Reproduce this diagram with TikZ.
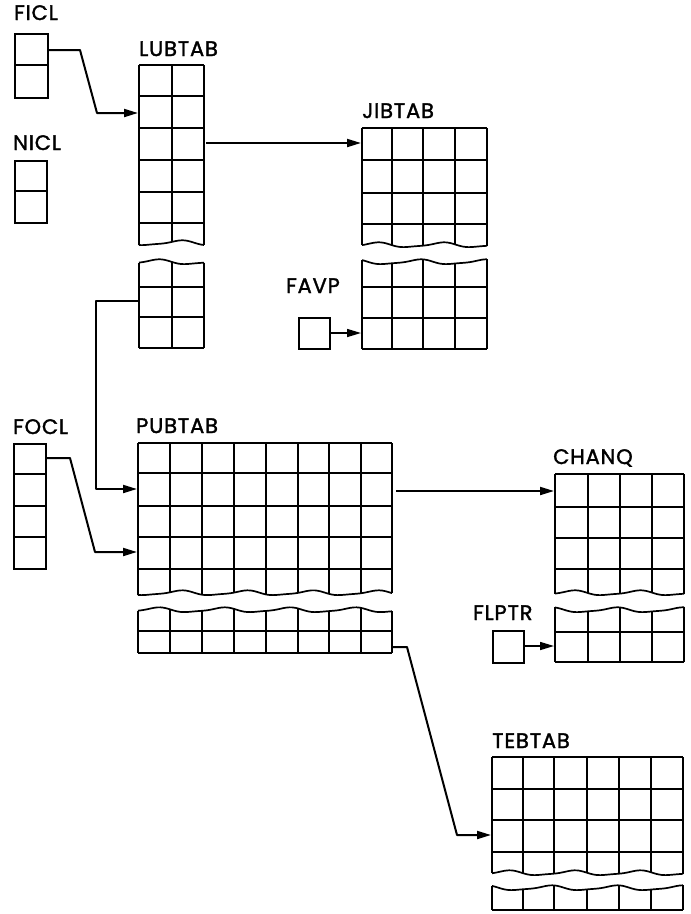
\documentclass[tikz,border=0pt]{standalone}
\usepackage{fontspec}
\setmainfont{Poppins}
\newfontfamily\lblfont{Poppins}[FakeBold=1.6,LetterSpace=4]
\usetikzlibrary{arrows.meta}
\begin{document}
\begin{tikzpicture}[x=1pt,y=-1pt,
  tab/.style={line width=1.7pt,line join=round},
  conn/.style={line width=2pt,line join=round,-{Triangle[length=14pt,width=8pt]}},
  lbl/.style={anchor=base west,inner sep=0pt,font=\lblfont\fontsize{21}{21}\selectfont},
  cellbox/.style={draw,line width=1.7pt,inner sep=0pt,anchor=north west}]
\useasboundingbox[fill=white] (0,0) rectangle (691,914);
% wave function
\def\wv#1{(2.2*sin(5.5*(#1))+0.6*sin(11*(#1)+40))}
% table top part: cols, top, rows, wave y
\newcommand{\toptab}[4]{%
  \foreach \r in {#3} {\draw[tab] ({min(#1)},\r) -- ({max(#1)},\r);}
  \foreach \c in {#1} {\draw[tab] (\c,#2) -- (\c,{#4+\wv{\c}});}
  \pgfmathsetmacro{\xa}{min(#1)}\pgfmathsetmacro{\xb}{max(#1)}
  \draw[tab] (\xa,#2) -- (\xb,#2);
  \draw[tab] plot[domain=\xa:\xb,samples=80,smooth] (\x,{#4+\wv{\x}});
}
% table bottom part: cols, wave y, rows, bottom
\newcommand{\bottab}[4]{%
  \foreach \r in {#3} {\draw[tab] ({min(#1)},\r) -- ({max(#1)},\r);}
  \foreach \c in {#1} {\draw[tab] (\c,{#2+\wv{\c+23}}) -- (\c,#4);}
  \pgfmathsetmacro{\xa}{min(#1)}\pgfmathsetmacro{\xb}{max(#1)}
  \draw[tab] (\xa,#4) -- (\xb,#4);
  \draw[tab] plot[domain=\xa:\xb,samples=80,smooth] (\x,{#2+\wv{\x+23}});
}
% ---- labels
\node[lbl] (lficl) at (14,20) {FICL};
\node[lbl] (llub) at (139,56) {LUBTAB};
\node[lbl] (lnicl) at (13,150) {NICL};
\node[lbl] (ljib) at (362,118) {JIBTAB};
\node[lbl] (lfavp) at (286,293) {FAVP};
\node[lbl] (lfocl) at (13,434) {FOCL};
\node[lbl] (lpub) at (136,433) {PUBTAB};
\node[lbl] (lchanq) at (553,464) {CHANQ};
\node[lbl] (lflptr) at (473,620) {FLPTR};
\node[lbl] (lteb) at (492,748) {TEBTAB};
% ---- small boxes
\node[cellbox,minimum width=33pt,minimum height=64pt] (ficl) at (14,33) {};
\draw[tab] (14,65) -- (47,65);
\node[cellbox,minimum width=32pt,minimum height=62pt] (nicl) at (14,160) {};
\draw[tab] (14,191) -- (46,191);
\node[cellbox,minimum width=32pt,minimum height=125pt] (focl) at (13,443) {};
\foreach \r in {474,506,537} \draw[tab] (13,\r) -- (45,\r);
\node[cellbox,minimum width=31pt,minimum height=31pt] (favp) at (298,317) {};
\node[cellbox,minimum width=31pt,minimum height=32pt] (flptr) at (492,630) {};
% ---- tables
\toptab{139,172,204}{65}{96,128,160,192,223}{243}
\bottab{139,172,204}{262}{287,317}{348}
\toptab{362,392,423,455,487}{128}{160,193,224}{245}
\bottab{362,392,423,455,487}{262}{287,318}{349}
\toptab{138,170,202,234,266,298,329,361,392}{443}{473,506,537,569}{593}
\bottab{138,170,202,234,266,298,329,361,392}{610}{631}{653}
\toptab{555,588,620,652,684}{474}{507,538,569}{593}
\bottab{555,588,620,652,684}{610}{632}{662}
\toptab{492,523,554,587,619,651,683}{757}{789,820,852}{873}
\bottab{492,523,554,587,619,651,683}{888}{}{910}
% ---- connector end points
\coordinate (ficlout) at (47,50);
\coordinate (lubin) at (138,113);
\coordinate (lubout) at (206,143);
\coordinate (jibin) at (361,143);
\coordinate (favpout) at (330,333);
\coordinate (jib2in) at (361,333);
\coordinate (lub2out) at (139,301);
\coordinate (pubinA) at (137,489);
\coordinate (foclout) at (46,458);
\coordinate (pubinB) at (137,552);
\coordinate (pubout) at (396,491);
\coordinate (chanqin) at (554,491);
\coordinate (flptrout) at (524,646);
\coordinate (chanq2in) at (554,646);
\coordinate (pub2out) at (393,647);
\coordinate (tebin) at (491,835);
% ---- connectors
\draw[conn] (ficlout) -- (80,50) -- (97,113) -- (lubin);
\draw[conn] (lubout) -- (jibin);
\draw[conn,line width=1.6pt] (favpout) -- (jib2in);
\draw[conn] (lub2out) -- (96,301) -- (96,489) -- (pubinA);
\draw[conn] (foclout) -- (70,458) -- (95,552) -- (pubinB);
\draw[conn] (pubout) -- (chanqin);
\draw[conn,line width=1.6pt] (flptrout) -- (chanq2in);
\draw[conn] (pub2out) -- (407,647) -- (457,835) -- (tebin);
\end{tikzpicture}
\end{document}
